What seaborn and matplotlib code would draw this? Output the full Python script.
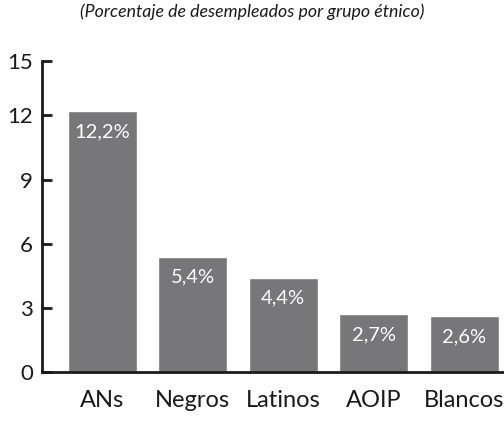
import matplotlib
matplotlib.use("Agg")
import matplotlib.pyplot as plt
import seaborn as sns
import pandas as pd

grupos = ["ANs", "Negros", "Latinos", "AOIP", "Blancos"]
desempleo = [12.2, 5.4, 4.4, 2.7, 2.6]
etiquetas = ["12,2%", "5,4%", "4,4%", "2,7%", "2,6%"]
ytick_vals = [0, 3, 6, 9, 12, 14.55]
ytick_labels = ["0", "3", "6", "9", "12", "15"]

df = pd.DataFrame({"grupo": grupos, "valor": desempleo})

sns.set_style("white")
plt.rcParams["font.family"] = ["Lato", "DejaVu Sans"]

fig = plt.figure(figsize=(5.04, 4.28), dpi=100)
ax = fig.add_axes([0.0833, 0.131, 0.9167, 0.7265])

sns.barplot(data=df, x="grupo", y="valor", color="#77777a", width=0.76,
            saturation=1, ax=ax)

# value labels inside the top of each bar
for i, (v, t) in enumerate(zip(desempleo, etiquetas)):
    ax.text(i, v - 0.95, t, ha="center", va="center", color="white", fontsize=14.5)

ax.set_xlim(-0.668, 4.44)
ax.set_ylim(0, 14.55)
ax.set_yticks(ytick_vals)
ax.set_yticklabels(ytick_labels)
ax.set_xlabel("")
ax.set_ylabel("")

for s in ["top", "right"]:
    ax.spines[s].set_visible(False)
for s in ["left", "bottom"]:
    ax.spines[s].set_linewidth(2)
    ax.spines[s].set_color("#1a1a1a")

ax.tick_params(axis="y", direction="in", length=7.2, width=2, color="#1a1a1a",
               labelsize=16, pad=6.5, left=True)
ax.tick_params(axis="x", length=0, labelsize=17, pad=13)
for lab in ax.get_xticklabels() + ax.get_yticklabels():
    lab.set_color("#1a1a1a")

fig.text(0.5, 0.972, "(Porcentaje de desempleados por grupo étnico)", ha="center",
         va="center", fontsize=12.8, style="italic", color="#1a1a1a")

fig.savefig("out.png", dpi=100)
